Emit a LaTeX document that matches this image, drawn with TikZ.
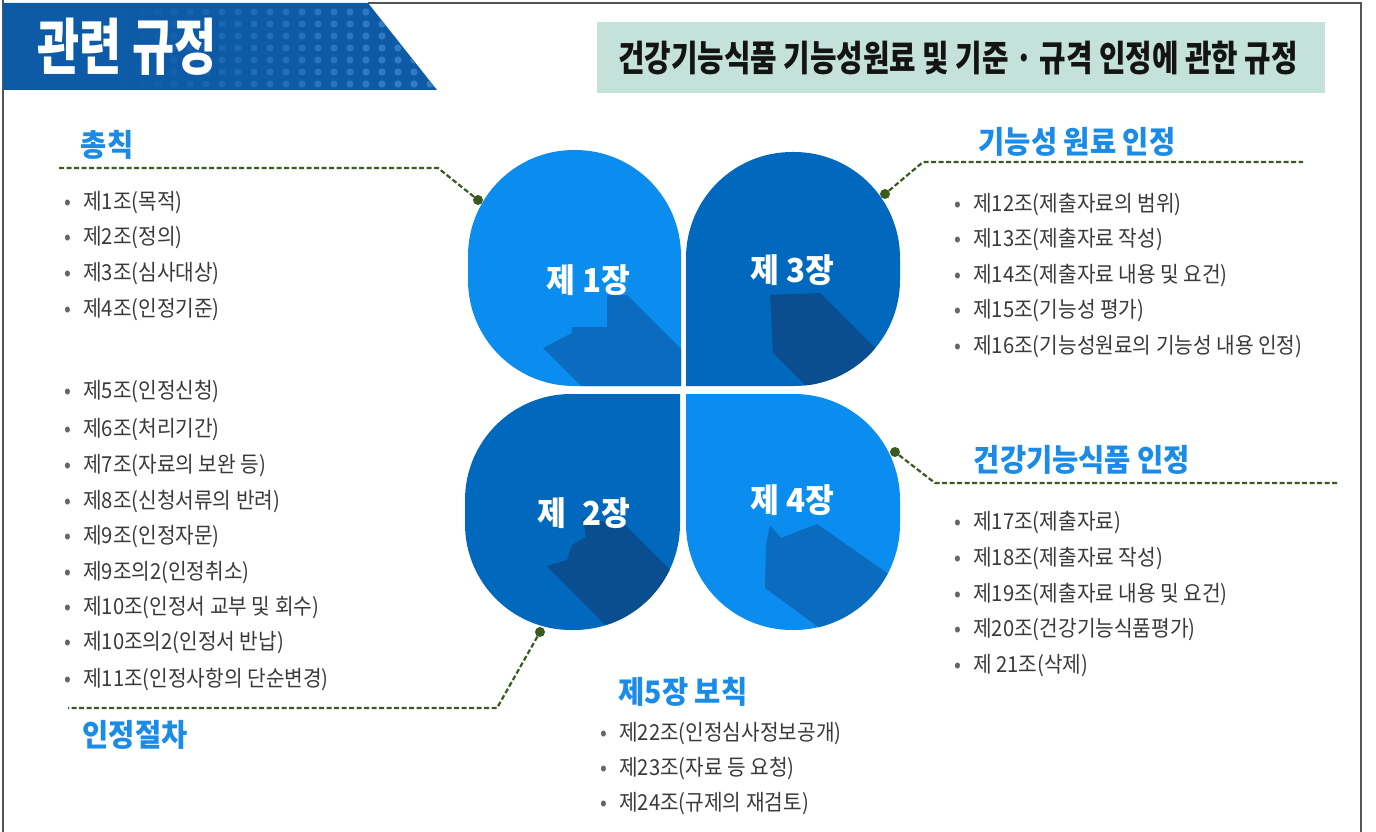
\documentclass[tikz,border=0pt]{standalone}
\usepackage{fontspec}
\newfontfamily\kr[FakeStretch=0.92]{Noto Sans CJK KR}
\newfontfamily\krc[FakeStretch=0.95]{Noto Sans CJK KR}
\newfontfamily\krt[FakeStretch=0.8]{Noto Sans CJK KR}
\newfontfamily\krh[FakeStretch=0.75]{Noto Sans CJK KR}
\definecolor{lightpetal}{HTML}{0A8DEF}
\definecolor{darkpetal}{HTML}{0068BD}
\definecolor{lightshadow}{HTML}{0A6BBF}
\definecolor{darkshadow}{HTML}{0A4E90}
\definecolor{headblue}{HTML}{1A8CE8}
\definecolor{dashgreen}{HTML}{3B5A1F}
\definecolor{titlebg}{HTML}{C4E2D9}
\definecolor{bandblue}{HTML}{0D5AA6}
\definecolor{dotblue}{HTML}{3A82C8}
\definecolor{textgray}{HTML}{3A3A3A}
\definecolor{bulgray}{HTML}{666666}
\definecolor{framegray}{HTML}{555555}
\newcommand\bul{\makebox[19pt][l]{\textcolor{bulgray}{•}}}
\def\tlpath{(681,386) -- (468,386) -- (468,150) -- (681,150) -- (681,386)}
\def\trpath{(686,386) -- (686,152) -- (900,152) -- (900,386) -- (686,386)}
\def\blpath{(680,394) -- (680,630) -- (465,630) -- (465,394) -- (680,394)}
\def\brpath{(686,394) -- (900,394) -- (900,630) -- (686,630) -- (686,394)}
\begin{document}
\begin{tikzpicture}[x=1pt,y=-1pt,
  item/.style={anchor=west,inner sep=0pt,text=textgray,font=\kr\fontsize{22}{22}\selectfont},
  head/.style={inner sep=0pt,text=headblue,font=\kr\bfseries\fontsize{31}{31}\selectfont},
  chap/.style={inner sep=0pt,text=white,font=\krc\bfseries\fontsize{33}{33}\selectfont},
  dot/.style={circle,fill=dashgreen,inner sep=0pt,minimum size=10pt},
  conn/.style={draw=dashgreen,line width=2.2pt,dash pattern=on 5pt off 2.5pt},
  petalR/.style={rounded corners=106pt}]
\useasboundingbox (0,0) rectangle (1376,832);
\fill[white] (0,0) rectangle (1376,832);
% frame
\draw[framegray,line width=1.2pt] (3,0) -- (3,832);
\draw[framegray,line width=1.2pt] (368,3) -- (1361,3) -- (1361,832);
% header band
\fill[bandblue] (3,3) -- (368,3) -- (437,90) -- (3,90) -- cycle;
\begin{scope}
  \clip (3,3) -- (368,3) -- (437,90) -- (3,90) -- cycle;
  \foreach \x in {110,126,...,440} {
    \pgfmathsetmacro\op{min(0.85,max(0,(\x-110)/330))}
    \foreach \y in {12,24,...,84} {
      \fill[dotblue,opacity=\op] (\x,\y) circle (3.6pt);
    }
  }
\end{scope}
\node[inner sep=0pt,text=white,font=\krh\bfseries\fontsize{61}{61}\selectfont] (maintitle) at (127,47) {관련 규정};
% title box
\fill[titlebg] (597,22) rectangle (1325,93);
\node[inner sep=0pt,text=black!92,font=\krt\bfseries\fontsize{36}{36}\selectfont] (subtitle) at (958,58) {건강기능식품 기능성원료 및 기준 · 규격 인정에 관한 규정};
% petals
\fill[lightpetal,petalR] \tlpath;
\fill[darkpetal,petalR] \trpath;
\fill[darkpetal,petalR] \blpath;
\fill[lightpetal,petalR] \brpath;
\begin{scope}
  \clip[petalR] \tlpath;
  \fill[lightshadow] (607,295) -- (627,295) -- (740,408) -- (603,408) -- (543,348) -- (572,333) -- (572,327) -- (607,327) -- cycle;
\end{scope}
\begin{scope}
  \clip[petalR] \trpath;
  \fill[darkshadow] (770,295) -- (820,293) -- (940,413) -- (833,413) -- (773,353) -- cycle;
\end{scope}
\begin{scope}
  \clip[petalR] \blpath;
  \fill[darkshadow] (583,518) -- (625,525) -- (720,620) -- (640,660) -- (547,566) -- (567,560) -- (572,545) -- (586,537) -- cycle;
\end{scope}
\begin{scope}
  \clip[petalR] \brpath;
  \fill[lightshadow] (770,525) -- (781,538) -- (817,524) -- (930,603) -- (930,709) -- (765,588) -- (766,545) -- cycle;
\end{scope}
\node[chap] (c1) at (588,280) {제 1장};
\node[chap] (c3) at (792,270) {제 3장};
\node[chap] (c2) at (584,513) {제\hspace{0.5em}2장};
\node[chap] (c4) at (792,500) {제 4장};
% connectors
\node[dot] (d1) at (478,200) {};
\node[dot] (d3) at (885,194) {};
\node[dot] (d4) at (895,452) {};
\node[dot] (d2) at (540,632) {};
\coordinate (b1) at (438,168); \coordinate (e1) at (58,168);
\coordinate (b3) at (923,162); \coordinate (e3) at (1303,162);
\coordinate (b4) at (935,483); \coordinate (e4) at (1337,483);
\coordinate (b2) at (497,708); \coordinate (e2) at (68,708);
\draw[conn] (d1) -- (b1) -- (e1);
\draw[conn] (d3) -- (b3) -- (e3);
\draw[conn] (d4) -- (b4) -- (e4);
\draw[conn] (d2) -- (b2) -- (e2);
% headings
\node[head] (h1) at (107,145) {총칙};
\node[head] (h3) at (1077,142) {기능성 원료 인정};
\node[head] (h4) at (1082,460) {건강기능식품 인정};
\node[head] (h2) at (135,735) {인정절차};
\node[head] (h5) at (683,692) {제5장 보칙};
% left list 1
\node[item] (a1) at (64,203) {\bul 제1조(목적)};
\node[item] (a2) at (64,238) {\bul 제2조(정의)};
\node[item] (a3) at (64,274) {\bul 제3조(심사대상)};
\node[item] (a4) at (64,310) {\bul 제4조(인정기준)};
% left list 2
\node[item] (a5) at (64,392) {\bul 제5조(인정신청)};
\node[item] (a6) at (64,430) {\bul 제6조(처리기간)};
\node[item] (a7) at (64,466) {\bul 제7조(자료의 보완 등)};
\node[item] (a8) at (64,502) {\bul 제8조(신청서류의 반려)};
\node[item] (a9) at (64,537) {\bul 제9조(인정자문)};
\node[item] (a92) at (64,573) {\bul 제9조의2(인정취소)};
\node[item] (a10) at (64,608) {\bul 제10조(인정서 교부 및 회수)};
\node[item] (a102) at (64,643) {\bul 제10조의2(인정서 반납)};
\node[item] (a11) at (64,679) {\bul 제11조(인정사항의 단순변경)};
% right list 1
\node[item] (a12) at (954,205) {\bul 제12조(제출자료의 범위)};
\node[item] (a13) at (954,240) {\bul 제13조(제출자료 작성)};
\node[item] (a14) at (954,276) {\bul 제14조(제출자료 내용 및 요건)};
\node[item] (a15) at (954,311) {\bul 제15조(기능성 평가)};
\node[item] (a16) at (954,347) {\bul 제16조(기능성원료의 기능성 내용 인정)};
% right list 2
\node[item] (a17) at (954,522) {\bul 제17조(제출자료)};
\node[item] (a18) at (954,558) {\bul 제18조(제출자료 작성)};
\node[item] (a19) at (954,594) {\bul 제19조(제출자료 내용 및 요건)};
\node[item] (a20) at (954,630) {\bul 제20조(건강기능식품평가)};
\node[item] (a21) at (954,666) {\bul 제 21조(삭제)};
% bottom list
\node[item] (a22) at (600,734) {\bul 제22조(인정심사정보공개)};
\node[item] (a23) at (600,769) {\bul 제23조(자료 등 요청)};
\node[item] (a24) at (600,804) {\bul 제24조(규제의 재검토)};
\end{tikzpicture}
\end{document}
